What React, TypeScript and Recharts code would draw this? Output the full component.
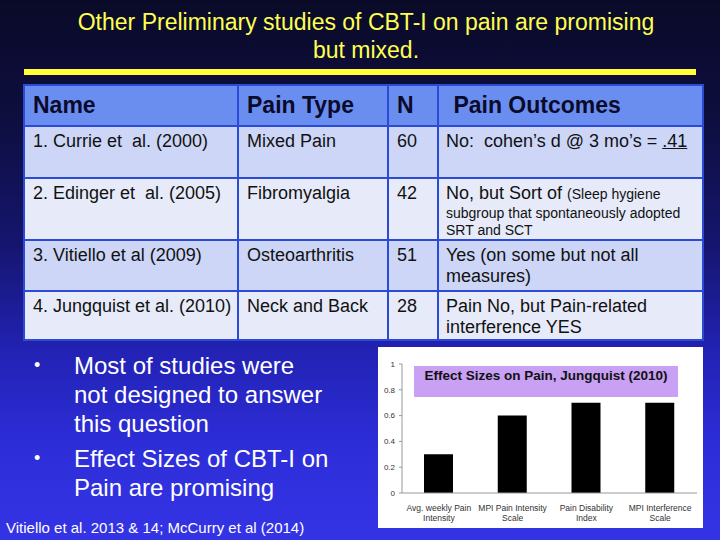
import { Bar, BarChart, XAxis, YAxis } from "recharts";

const categories = [
  "Avg. weekly Pain Intensity",
  "MPI Pain Intensity Scale",
  "Pain Disability Index",
  "MPI Interference Scale",
];
const tickLines = [
  ["Avg. weekly Pain", "Intensity"],
  ["MPI Pain Intensity", "Scale"],
  ["Pain Disability", "Index"],
  ["MPI Interference", "Scale"],
];
const effectSizes = [0.3, 0.6, 0.7, 0.7];
const yTicks = [0, 0.2, 0.4, 0.6, 0.8, 1];

const headers = ["Name", "Pain Type", "N", " Pain Outcomes"];
const names = [
  "1. Currie et  al. (2000)",
  "2. Edinger et  al. (2005)",
  "3. Vitiello et al (2009)",
  "4. Jungquist et al. (2010)",
];
const painTypes = ["Mixed Pain", "Fibromyalgia", "Osteoarthritis", "Neck and Back"];
const sampleSizes = [60, 42, 51, 28];
const outcomeLines = [
  ["No:  cohen’s d @ 3 mo’s = "],
  ["No, but Sort of "],
  ["Yes (on some but not all", "measures)"],
  ["Pain No, but Pain-related", "interference YES"],
];
const outcomeUnderlined = [".41", "", "", ""];
const outcomeNotes = [[], ["(Sleep hygiene", "subgroup that spontaneously adopted", "SRT and SCT"], [], []];
const rowHeights = [52, 61, 51, 49];
const colWidths = [214, 150, 50, 265];

const bullets = [
  ["Most of studies were", "not designed to answer", "this question"],
  ["Effect Sizes of CBT-I on", "Pain are promising"],
];

const data = categories.map((name, i) => ({ name, effect: effectSizes[i] }));

const FONT = '"Liberation Sans", Arial, sans-serif';
const BORDER = "2px solid #2b4bd6";

const XTick = ({ x, y, index }: any) => (
  <text x={x} y={y} textAnchor="middle" fontSize={8.5} fill="#333" fontFamily={FONT}>
    {tickLines[index].map((l, i) => (
      <tspan key={i} x={x} dy={i === 0 ? 18 : 10}>
        {l}
      </tspan>
    ))}
  </text>
);

const cell = {
  border: BORDER,
  padding: "4px 0 0 8px",
  verticalAlign: "top" as const,
  whiteSpace: "pre" as const,
  overflow: "hidden",
};

export default function App() {
  return (
    <div
      style={{
        position: "fixed",
        left: 0,
        top: 0,
        width: 720,
        height: 540,
        overflow: "hidden",
        fontFamily: FONT,
        background:
          "linear-gradient(to bottom, #0a0a28 0%, #0e0e40 22%, #15156e 45%, #2222b4 65%, #2d2dd8 82%, #3434e6 100%)",
      }}
    >
      <div
        style={{
          position: "absolute",
          left: 0,
          top: 8,
          width: 732,
          textAlign: "center",
          color: "#ffff50",
          fontSize: 23,
          lineHeight: "28px",
        }}
      >
        Other Preliminary studies of CBT-I on pain are promising
        <br />
        but mixed.
      </div>
      <div style={{ position: "absolute", left: 24, top: 69, width: 672, height: 6, background: "#ffff33" }} />

      <table
        style={{
          position: "absolute",
          left: 23,
          top: 84,
          width: 679,
          borderCollapse: "collapse",
          tableLayout: "fixed",
          fontSize: 18,
          lineHeight: "21px",
          color: "#111",
        }}
      >
        <colgroup>
          {colWidths.map((w, i) => (
            <col key={i} style={{ width: w }} />
          ))}
        </colgroup>
        <tbody>
          <tr style={{ height: 41, background: "#6a8ef0" }}>
            {headers.map((h) => (
              <td
                key={h}
                style={{
                  ...cell,
                  verticalAlign: "middle",
                  padding: "0 0 0 8px",
                  fontSize: 23,
                  fontWeight: "bold",
                  color: "#0a0a2a",
                }}
              >
                {h}
              </td>
            ))}
          </tr>
          {names.map((n, r) => (
            <tr key={n} style={{ height: rowHeights[r], background: r % 2 === 0 ? "#cdd6f7" : "#e7ebf9" }}>
              <td style={cell}>{n}</td>
              <td style={cell}>{painTypes[r]}</td>
              <td style={cell}>{sampleSizes[r]}</td>
              <td style={{ ...cell, paddingLeft: 7 }}>
                {outcomeLines[r].map((l, k) => (
                  <div key={k}>
                    {l}
                    {k === 0 && outcomeUnderlined[r] && (
                      <span style={{ textDecoration: "underline" }}>{outcomeUnderlined[r]}</span>
                    )}
                    {k === 0 && outcomeNotes[r].length > 0 && (
                      <span style={{ fontSize: 14 }}>{outcomeNotes[r][0]}</span>
                    )}
                  </div>
                ))}
                {outcomeNotes[r].slice(1).map((l) => (
                  <div key={l} style={{ fontSize: 14, lineHeight: "17px" }}>
                    {l}
                  </div>
                ))}
              </td>
            </tr>
          ))}
        </tbody>
      </table>

      {bullets.map((lines, b) => (
        <div
          key={b}
          style={{
            position: "absolute",
            left: 0,
            top: b === 0 ? 351 : 444,
            color: "#fff",
            fontSize: 24,
            lineHeight: "29px",
            whiteSpace: "nowrap",
          }}
        >
          <span style={{ position: "absolute", left: 34, top: 0, fontSize: 18 }}>•</span>
          <div style={{ marginLeft: 74 }}>
            {lines.map((l) => (
              <div key={l}>{l}</div>
            ))}
          </div>
        </div>
      ))}

      <div
        style={{
          position: "absolute",
          left: 6,
          top: 519,
          color: "#fff",
          fontSize: 15,
          lineHeight: "18px",
          whiteSpace: "nowrap",
        }}
      >
        Vitiello et al. 2013 &amp; 14; McCurry et al (2014)
      </div>

      <div style={{ position: "absolute", left: 378, top: 347, width: 325, height: 181, background: "#fff" }}>
        <BarChart width={325} height={181} data={data} margin={{ top: 17, right: 6, left: 0, bottom: 0 }}>
          <XAxis
            dataKey="name"
            height={35}
            interval={0}
            tickLine={false}
            tickSize={0}
            tickMargin={0}
            stroke="#999"
            tick={<XTick />}
          />
          <YAxis
            width={24}
            domain={[0, 1]}
            ticks={yTicks}
            tickSize={3}
            tickMargin={4}
            stroke="#999"
            tick={{ fontSize: 8, fill: "#333", fontFamily: FONT }}
          />
          <Bar dataKey="effect" fill="#000" barSize={29} isAnimationActive={false} />
        </BarChart>
        <div
          style={{
            position: "absolute",
            left: 36,
            top: 19,
            width: 264,
            height: 31,
            background: "#c8a0f4",
            textAlign: "center",
            fontSize: 13.5,
            fontWeight: "bold",
            lineHeight: "20px",
            color: "#111",
          }}
        >
          Effect Sizes on Pain, Jungquist (2010)
        </div>
      </div>
    </div>
  );
}
